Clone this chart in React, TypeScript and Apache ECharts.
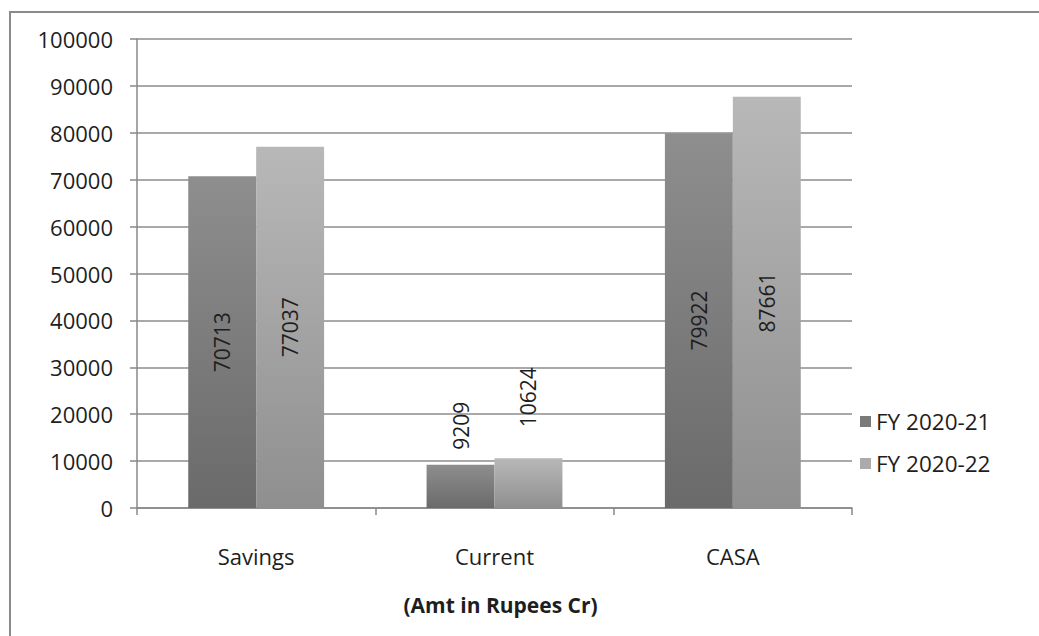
import React, { useEffect, useRef } from "react";
import * as echarts from "echarts";

const categories = ["Savings", "Current", "CASA"];
const seriesNames = ["FY 2020-21", "FY 2020-22"];
const fy2021 = [70713, 9209, 79922];
const fy2022 = [77037, 10624, 87661];
const yTicks = [0, 10000, 20000, 30000, 40000, 50000, 60000, 70000, 80000, 90000, 100000];
const axisName = "(Amt in Rupees Cr)";

const FONT = "Open Sans";

function makeData(values: number[], outsideDistances: (number | null)[]) {
  return values.map((v, i) => {
    const d = outsideDistances[i];
    if (d === null) {
      return { value: v };
    }
    return {
      value: v,
      label: {
        position: "top",
        rotate: 90,
        align: "left",
        verticalAlign: "middle",
        distance: d,
      },
    };
  });
}

export default function App() {
  const ref = useRef<HTMLDivElement>(null);
  useEffect(() => {
    if (!ref.current) return;
    const chart = echarts.init(ref.current, null, { renderer: "svg" });
    const grad = (top: string, bottom: string) =>
      new echarts.graphic.LinearGradient(0, 0, 0, 1, [
        { offset: 0, color: top },
        { offset: 1, color: bottom },
      ]);
    const labelBase = {
      show: true,
      position: "inside",
      rotate: 90,
      fontFamily: FONT,
      fontSize: 21,
      color: "#1e1e1e",
    };
    chart.setOption({
      animation: false,
      backgroundColor: "#ffffff",
      textStyle: { fontFamily: FONT },
      graphic: [
        {
          type: "rect",
          shape: { x: 10, y: 12, width: 1040, height: 640 },
          style: { fill: "none", stroke: "#8a8a8a", lineWidth: 2 },
          silent: true,
        },
      ],
      grid: { left: 137, top: 39, right: 187, bottom: 128, containLabel: false },
      legend: {
        orient: "vertical",
        left: 855,
        top: 405,
        itemWidth: 11,
        itemHeight: 11,
        itemGap: 19,
        icon: "rect",
        textStyle: { fontFamily: FONT, fontSize: 22.5, color: "#1e1e1e" },
        data: [
          { name: seriesNames[0], itemStyle: { color: "#7a7a7a" } },
          { name: seriesNames[1], itemStyle: { color: "#ababab" } },
        ],
      },
      xAxis: {
        type: "category",
        data: categories,
        name: axisName,
        nameLocation: "middle",
        nameGap: 86,
        nameTextStyle: {
          fontFamily: FONT,
          fontSize: 21,
          fontWeight: "bold",
          color: "#1e1e1e",
          padding: [0, 0, 0, 12],
        },
        axisLine: { lineStyle: { color: "#888888", width: 1.5 } },
        axisTick: { show: true, length: 7, lineStyle: { color: "#888888", width: 1.5 } },
        axisLabel: { fontFamily: FONT, fontSize: 22, color: "#1e1e1e", margin: 37 },
      },
      yAxis: {
        type: "value",
        min: yTicks[0],
        max: yTicks[yTicks.length - 1],
        interval: yTicks[1] - yTicks[0],
        axisLine: { show: true, lineStyle: { color: "#888888", width: 1.5 } },
        axisTick: { show: true, length: 7, lineStyle: { color: "#888888", width: 1.5 } },
        axisLabel: {
          fontFamily: FONT,
          fontSize: 22,
          color: "#1e1e1e",
          margin: 24,
          formatter: (v: number) => String(v),
        },
        splitLine: { show: true, lineStyle: { color: "#8c8c8c", width: 1.5 } },
      },
      series: [
        {
          name: seriesNames[0],
          type: "bar",
          barGap: "0%",
          barCategoryGap: "43%",
          data: makeData(fy2021, [null, 15, null]),
          itemStyle: { color: grad("#8e8e8e", "#6a6a6a") },
          label: labelBase,
        },
        {
          name: seriesNames[1],
          type: "bar",
          barGap: "0%",
          barCategoryGap: "43%",
          data: makeData(fy2022, [null, 31, null]),
          itemStyle: { color: grad("#b8b8b8", "#8f8f8f") },
          label: labelBase,
        },
      ],
    });
    return () => chart.dispose();
  }, []);
  return (
    <div
      ref={ref}
      style={{ position: "fixed", left: 0, top: 0, width: 1039, height: 636 }}
    />
  );
}
